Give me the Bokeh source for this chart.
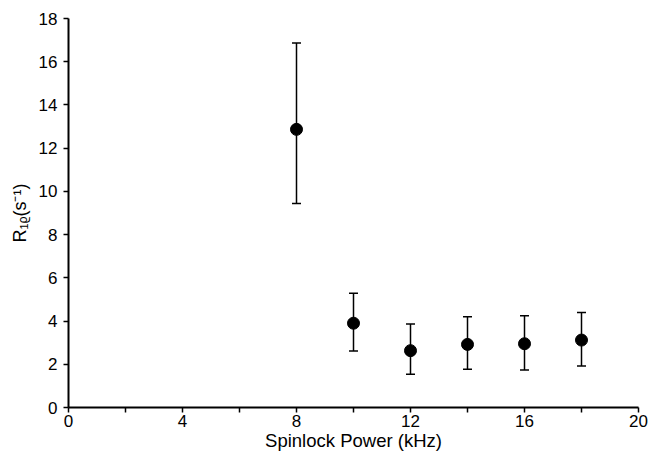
from bokeh.plotting import figure
from bokeh.models import ColumnDataSource, Whisker, TeeHead, FixedTicker, Range1d
from bokeh.embed import file_html
from bokeh.resources import INLINE

power = [8, 10, 12, 14, 16, 18]
r1rho = [12.87, 3.90, 2.63, 2.92, 2.95, 3.12]
err_upper = [16.87, 5.29, 3.86, 4.20, 4.25, 4.40]
err_lower = [9.44, 2.62, 1.54, 1.77, 1.74, 1.92]
x_ticks = [0, 4, 8, 12, 16, 20]
x_minor = [2, 6, 10, 14, 18]
y_ticks = [0, 2, 4, 6, 8, 10, 12, 14, 16, 18]
x_title = "Spinlock Power (kHz)"
y_title = "R\u2081\u1d68(s\u207b\u00b9)"

src = ColumnDataSource(dict(x=power, y=r1rho, up=err_upper, lo=err_lower))

p = figure(width=653, height=461, output_backend="svg", toolbar_location=None,
           x_range=Range1d(0, 20), y_range=Range1d(0, 18),
           min_border_left=68, min_border_right=15, min_border_top=18, min_border_bottom=54)
p.outline_line_color = None
p.xgrid.visible = False
p.ygrid.visible = False

p.add_layout(Whisker(source=src, base="x", upper="up", lower="lo",
                     line_color="black", line_width=1.5,
                     upper_head=TeeHead(size=9, line_color="black", line_width=1.5),
                     lower_head=TeeHead(size=9, line_color="black", line_width=1.5)))
p.scatter("x", "y", source=src, size=12, color="black")

font = "Liberation Sans"
for ax in (p.xaxis[0], p.yaxis[0]):
    ax.axis_line_width = 2
    ax.axis_line_color = "black"
    ax.major_tick_line_width = 1.5
    ax.major_tick_in = 0
    ax.major_tick_out = 5
    ax.minor_tick_line_width = 1.5
    ax.minor_tick_in = 0
    ax.minor_tick_out = 5
    ax.major_label_text_font = font
    ax.major_label_text_font_size = "17px"
    ax.major_label_text_color = "black"
    ax.axis_label_text_font = font
    ax.axis_label_text_font_size = "18.5px"
    ax.axis_label_text_font_style = "normal"
    ax.axis_label_text_color = "black"

p.xaxis.ticker = FixedTicker(ticks=x_ticks, minor_ticks=x_minor)
p.yaxis.ticker = FixedTicker(ticks=y_ticks, minor_ticks=[])
p.xaxis.axis_label = x_title
p.yaxis.axis_label = y_title
p.yaxis.axis_label_text_font_size = "18px"
p.xaxis.major_label_standoff = 2
p.yaxis.major_label_standoff = 6
p.xaxis.axis_label_standoff = 0
p.yaxis.axis_label_standoff = 6

open("out.html", "w").write(file_html(p, INLINE))
